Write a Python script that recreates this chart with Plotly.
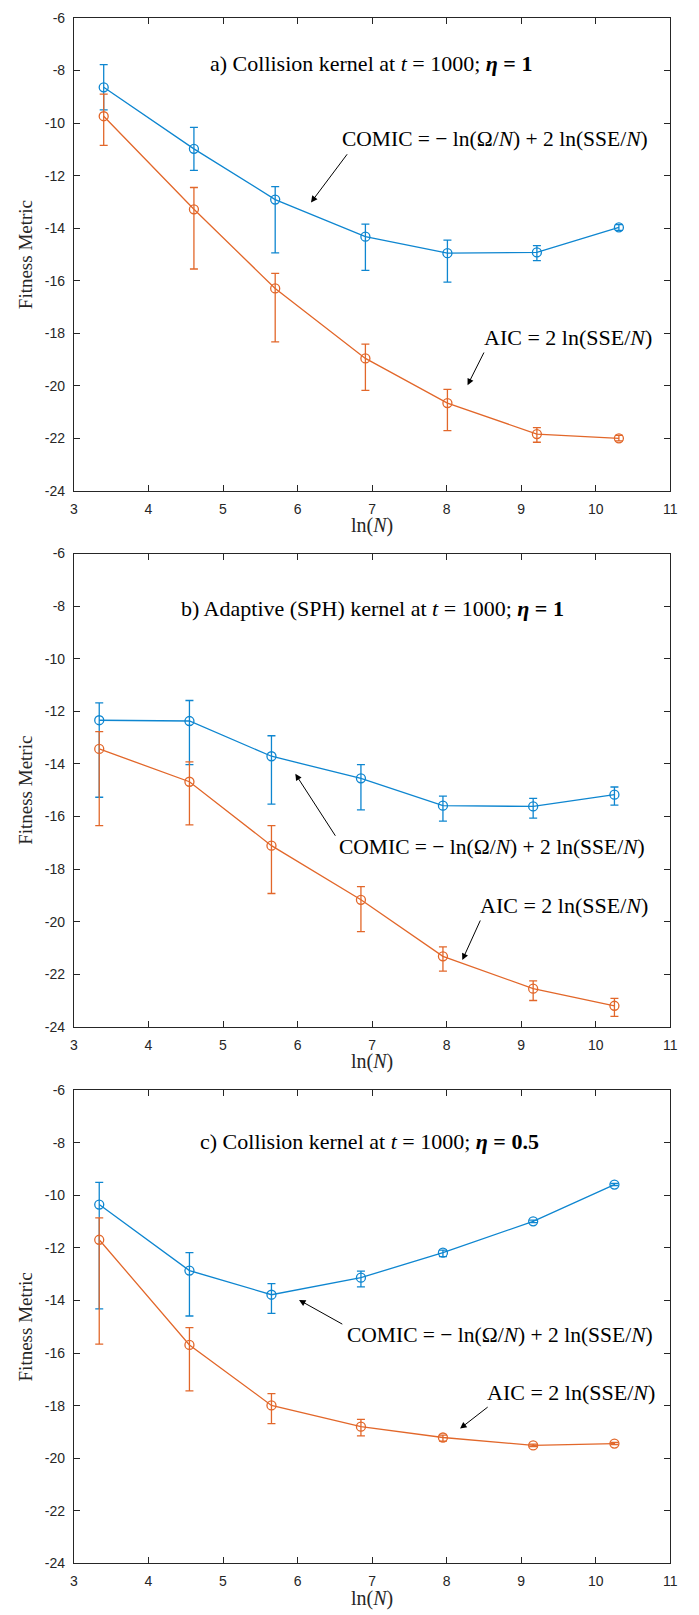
import plotly.graph_objects as go

# ---------------- data ----------------
x_a = [3.40, 4.61, 5.70, 6.91, 8.01, 9.21, 10.31]
x_bc = [3.34, 4.55, 5.65, 6.85, 7.95, 9.16, 10.25]

# Panel a: Collision kernel, eta = 1
comic_a = [-8.64, -10.98, -12.91, -14.32, -14.95, -14.92, -13.97]
comic_a_hi = [-7.78, -10.16, -12.42, -13.84, -14.45, -14.66, -13.86]
comic_a_lo = [-9.50, -11.80, -14.94, -15.60, -16.05, -15.23, -14.08]
aic_a = [-9.74, -13.28, -16.29, -18.95, -20.65, -21.83, -21.99]
aic_a_hi = [-8.90, -12.45, -15.72, -18.41, -20.13, -21.58, -21.88]
aic_a_lo = [-10.85, -15.55, -18.32, -20.17, -21.70, -22.14, -22.09]

# Panel b: Adaptive (SPH) kernel, eta = 1
comic_b = [-12.34, -12.37, -13.71, -14.55, -15.59, -15.62, -15.17]
comic_b_hi = [-11.68, -11.59, -12.93, -14.03, -15.23, -15.31, -14.88]
comic_b_lo = [-15.27, -14.03, -15.53, -15.75, -16.18, -16.06, -15.57]
aic_b = [-13.43, -14.68, -17.11, -19.17, -21.32, -22.55, -23.20]
aic_b_hi = [-12.77, -13.92, -16.35, -18.67, -20.96, -22.25, -22.92]
aic_b_lo = [-16.35, -16.32, -18.93, -20.38, -21.88, -23.00, -23.60]

# Panel c: Collision kernel, eta = 0.5
comic_c = [-10.35, -12.86, -13.78, -13.13, -12.18, -10.99, -9.59]
comic_c_hi = [-9.51, -12.18, -13.36, -12.88, -12.08, -10.94, -9.55]
comic_c_lo = [-14.32, -14.59, -14.49, -13.48, -12.33, -11.04, -9.63]
aic_c = [-11.69, -15.69, -17.99, -18.80, -19.21, -19.51, -19.44]
aic_c_hi = [-10.86, -15.03, -17.54, -18.52, -19.12, -19.46, -19.40]
aic_c_lo = [-15.66, -17.44, -18.68, -19.15, -19.35, -19.56, -19.48]

x_ticks = [3, 4, 5, 6, 7, 8, 9, 10, 11]
y_ticks = [-24, -22, -20, -18, -16, -14, -12, -10, -8, -6]
y_tick_text = ["-24", "-22", "-20", "-18", "-16", "-14", "-12", "-10", "-8", "-6"]

titles = [
    "a) Collision kernel at <i>t</i> = 1000; <b><i>η</i> = 1</b>",
    "b) Adaptive (SPH) kernel at <i>t</i> = 1000; <b><i>η</i> = 1</b>",
    "c) Collision kernel at <i>t</i> = 1000; <b><i>η</i> = 0.5</b>",
]
comic_label = "COMIC = − ln(Ω/<i>N</i>) + 2 ln(SSE/<i>N</i>)"
aic_label = "AIC = 2 ln(SSE/<i>N</i>)"

# annotation anchor positions (data coords) per panel
title_pos = [(6.99, -7.72), (7.0, -8.08), (6.96, -7.97)]
comic_text_pos = [(8.65, -10.59), (8.61, -17.18), (8.71, -15.30)]
comic_arrow = [((6.68, -11.13), (6.18, -13.02)), ((6.52, -16.79), (5.97, -14.38)), ((6.62, -14.93), (6.02, -13.98))]
aic_text_pos = [(9.63, -18.15), (9.57, -19.38), (9.67, -17.49)]
aic_arrow = [((8.51, -18.67), (8.28, -19.97)), ((8.46, -19.90), (8.21, -21.46)), ((8.57, -18.01), (8.18, -18.87))]

BLUE = "#0E86D0"
ORANGE = "#E2672A"
AXC = "#262626"
W, H = 699, 1615

panels = [
    (x_a, comic_a, comic_a_hi, comic_a_lo, aic_a, aic_a_hi, aic_a_lo),
    (x_bc, comic_b, comic_b_hi, comic_b_lo, aic_b, aic_b_hi, aic_b_lo),
    (x_bc, comic_c, comic_c_hi, comic_c_lo, aic_c, aic_c_hi, aic_c_lo),
]
# plot area pixel boxes (top, bottom)
boxes = [(10, 488), (551, 1029), (1093, 1571)]
left_px, right_px = 71, 677

fig = go.Figure()
annotations = []

for i, (xs, cy, chi, clo, ay_, ahi, alo) in enumerate(panels):
    sfx = "" if i == 0 else str(i + 1)
    xref, yref = "x" + sfx, "y" + sfx
    for ys, hi, lo, col in [(cy, chi, clo, BLUE), (ay_, ahi, alo, ORANGE)]:
        fig.add_trace(go.Scatter(
            x=xs, y=ys, xaxis=xref, yaxis=yref, mode="lines+markers",
            line=dict(color=col, width=1.3),
            marker=dict(symbol="circle-open", size=9, color=col, line=dict(width=1.3, color=col)),
            error_y=dict(type="data", symmetric=False,
                         array=[h - v for h, v in zip(hi, ys)],
                         arrayminus=[v - l for v, l in zip(ys, lo)],
                         color=col, thickness=1.3, width=4),
            showlegend=False, hoverinfo="skip",
        ))
    top, bot = boxes[i]
    dom_y = [1 - bot / H, 1 - top / H]
    dom_x = [left_px / W, right_px / W]
    axis_common = dict(showline=True, linecolor=AXC, linewidth=1, mirror="allticks",
                       ticks="inside", ticklen=6, tickcolor=AXC, tickwidth=1,
                       showgrid=False, zeroline=False,
                       tickfont=dict(family="Liberation Sans", size=14, color=AXC),
                       ticklabelstandoff=5)
    fig.update_layout(**{
        "xaxis" + sfx: dict(domain=dom_x, range=[3, 11], tickvals=x_ticks,
                            anchor=yref, **axis_common),
        "yaxis" + sfx: dict(domain=dom_y, range=[-24, -6], tickvals=y_ticks,
                            ticktext=y_tick_text, anchor=xref, **axis_common),
    })
    # title
    tx, ty = title_pos[i]
    annotations.append(dict(x=tx, y=ty, xref=xref, yref=yref, text=titles[i], showarrow=False,
                            font=dict(family="Liberation Serif", size=22, color="black"),
                            xanchor="center", yanchor="middle"))
    # COMIC label + arrow
    cx, cyy = comic_text_pos[i]
    annotations.append(dict(x=cx, y=cyy, xref=xref, yref=yref, text=comic_label, showarrow=False,
                            font=dict(family="Liberation Serif", size=21.5, color="black"),
                            xanchor="center", yanchor="middle"))
    (t0x, t0y), (h0x, h0y) = comic_arrow[i]
    annotations.append(dict(x=h0x, y=h0y, ax=t0x, ay=t0y, xref=xref, yref=yref,
                            axref=xref, ayref=yref, text="", showarrow=True,
                            arrowhead=2, arrowsize=1.3, arrowwidth=1, arrowcolor="black"))
    # AIC label + arrow
    axx, ayy = aic_text_pos[i]
    annotations.append(dict(x=axx, y=ayy, xref=xref, yref=yref, text=aic_label, showarrow=False,
                            font=dict(family="Liberation Serif", size=22, color="black"),
                            xanchor="center", yanchor="middle"))
    (t1x, t1y), (h1x, h1y) = aic_arrow[i]
    annotations.append(dict(x=h1x, y=h1y, ax=t1x, ay=t1y, xref=xref, yref=yref,
                            axref=xref, ayref=yref, text="", showarrow=True,
                            arrowhead=2, arrowsize=1.3, arrowwidth=1, arrowcolor="black"))
    # axis titles
    annotations.append(dict(x=(left_px + right_px) / 2 / W, y=1 - (bot + 35) / H, xref="paper", yref="paper",
                            text="ln(<i>N</i>)", showarrow=False,
                            font=dict(family="Liberation Serif", size=20, color=AXC),
                            xanchor="center", yanchor="middle"))
    annotations.append(dict(x=22 / W, y=1 - (top + bot) / 2 / H, xref="paper", yref="paper",
                            text="Fitness Metric", showarrow=False, textangle=-90,
                            font=dict(family="Liberation Serif", size=19, color=AXC),
                            xanchor="center", yanchor="middle"))

fig.update_layout(
    width=W, height=H, margin=dict(l=0, r=0, t=0, b=0),
    paper_bgcolor="white", plot_bgcolor="white",
    annotations=annotations,
)

fig.write_html("out.html")
